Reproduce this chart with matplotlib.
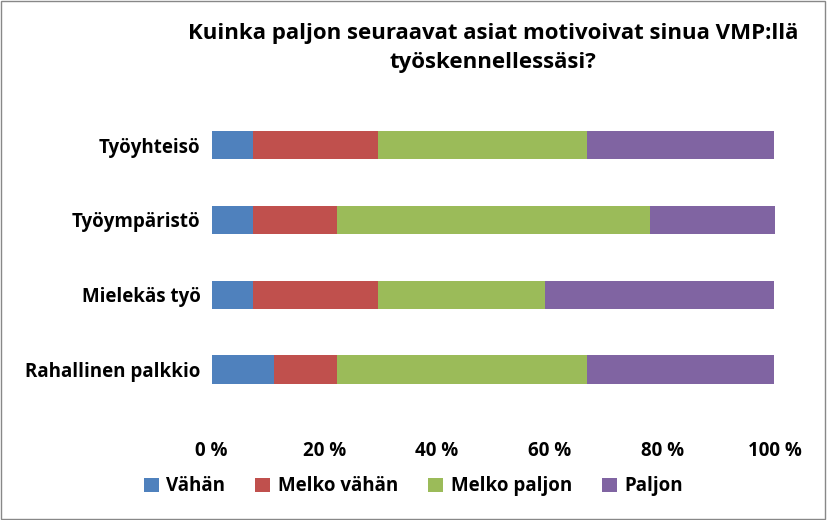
import matplotlib
matplotlib.use("Agg")
import matplotlib.pyplot as plt
from matplotlib.ticker import FuncFormatter

categories = ["Rahallinen palkkio", "Mielekäs työ", "Työympäristö", "Työyhteisö"]
series_names = ["Vähän", "Melko vähän", "Melko paljon", "Paljon"]
vahan = [11.1, 7.4, 7.4, 7.4]
melko_vahan = [11.1, 22.2, 14.8, 22.2]
melko_paljon = [44.4, 29.6, 55.6, 37.0]
paljon = [33.3, 40.7, 22.2, 33.3]
colors = ["#4F81BD", "#C0504D", "#9BBB59", "#8064A2"]

plt.rcParams['font.family'] = ['Open Sans', 'DejaVu Sans']
fig = plt.figure(figsize=(8.27, 5.2), dpi=100)
ax = fig.add_axes([0.256, 0.2, 0.681, 0.6])
left = [0.0] * 4
for name, vals, c in zip(series_names, [vahan, melko_vahan, melko_paljon, paljon], colors):
    ax.barh(categories, vals, left=left, color=c, height=0.38, label=name)
    left = [l + v for l, v in zip(left, vals)]
ax.set_xlim(0, 100)
ax.set_xticks(range(0, 101, 20))
ax.xaxis.set_major_formatter(FuncFormatter(lambda v, p: f"{int(v)} %"))
for s in ax.spines.values():
    s.set_visible(False)
ax.tick_params(axis='y', length=0, labelsize=13.5, pad=8)
ax.tick_params(axis='x', length=0, labelsize=13.5, pad=18)
for t in ax.get_xticklabels() + ax.get_yticklabels():
    t.set_fontweight('bold')
ax.set_ylim(-0.62, 3.55)
fig.text(0.596, 0.955, "Kuinka paljon seuraavat asiat motivoivat sinua VMP:llä\ntyöskennellessäsi?",
         ha='center', va='top', fontsize=16, fontweight='bold', linespacing=1.5)
leg = fig.legend(loc='center', bbox_to_anchor=(0.5, 0.065), ncol=4, frameon=False,
                 fontsize=13.5, handlelength=0.8, handleheight=0.8, columnspacing=1.6, handletextpad=0.4)
for t in leg.get_texts():
    t.set_fontweight('bold')
fig.patches.append(plt.Rectangle((0.001, 0.001), 0.997, 0.997, transform=fig.transFigure,
                                 fill=False, edgecolor='#888888', linewidth=1))
fig.savefig("out.png", dpi=100)
